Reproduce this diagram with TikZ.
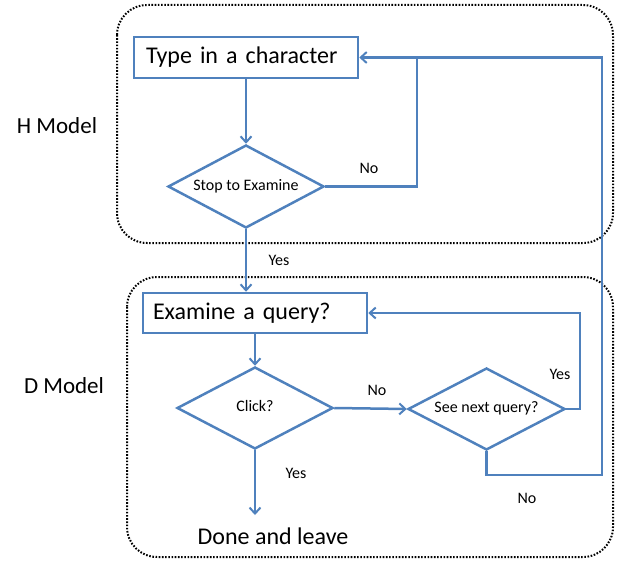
\documentclass[tikz,border=0pt]{standalone}
\usepackage{fontspec}
\setmainfont{Carlito}
\usetikzlibrary{shapes.geometric,arrows.meta}
\definecolor{fblue}{HTML}{4F81BD}
\newcommand{\ztext}[1]{\makebox[0pt]{\smash{\raisebox{-0.5ex}{#1}}}}
\tikzset{
  flow/.style={draw=fblue, line width=2.5pt},
  arr/.style={flow, -{Straight Barb[length=6pt,width=11pt,line width=2pt]}},
  procbox/.style={draw=fblue, line width=2.5pt, rectangle, inner sep=0pt, font=\fontsize{24}{28}\selectfont},
  decision/.style={draw=fblue, line width=2.5pt, diamond, inner sep=0pt, font=\fontsize{16}{19}\selectfont},
  lbl/.style={font=\fontsize{16}{19}\selectfont, inner sep=0pt},
  model/.style={font=\fontsize{23}{27}\selectfont, inner sep=0pt},
  group/.style={draw=black, line width=2pt, dash pattern=on 1.6pt off 1.6pt, rounded corners=30pt}
}
\begin{document}
\begin{tikzpicture}[x=1pt,y=-1pt]
\useasboundingbox (0,0) rectangle (631,561);
% groups
\draw[group] (117,5) rectangle (613,243);
\draw[group] (127,277) rectangle (613,557);
\node[model] (hm) at (57,126) {H Model};
\node[model] (dm) at (64,386) {D Model};
% nodes
\node[procbox, minimum width=224pt, minimum height=41pt, text width=200pt, align=left] (type) at (246,57.5) {Type in a character};
\node[decision, minimum width=156pt, minimum height=83pt] (stop) at (246,186.5) {\ztext{Stop to Examine}};
\node[procbox, minimum width=224pt, minimum height=40pt, text width=204pt, align=left] (exam) at (255,313) {Examine a query?};
\node[decision, minimum width=156pt, minimum height=82pt] (click) at (255,408) {\ztext{Click?}};
\node[decision, minimum width=157pt, minimum height=82pt] (seen) at (486.5,409) {\ztext{See next query?}};
\node[font=\fontsize{24}{28}\selectfont, inner sep=0pt] (done) at (273,536) {Done and leave};
% coordinates
\coordinate (j1) at (417,57.5);
\coordinate (j2) at (602,57.5);
\coordinate (c1) at (602,475);
\coordinate (dtop) at (255,515);
% connectors
\draw[arr] (type.south) -- (stop.north);
\draw[flow] (stop.east) -| (j1);
\draw[arr] (j1) -- (type.east);
\draw[arr] (stop.south) -- (stop.south |- exam.north);
\draw[arr] (exam.south) -- (click.north);
\draw[arr] (click.east) -- (seen.west);
\draw[arr] (seen.east) -- (580,409) |- (exam.east);
\draw[flow] (seen.south) |- (c1) -- (j2) -- (j1);
\draw[arr] (click.south) -- (dtop);
% labels
\node[lbl] (no1) at (369,168) {No};
\node[lbl] (yes1) at (279,260) {Yes};
\node[lbl] (no2) at (377,390) {No};
\node[lbl] (yes2) at (560,374) {Yes};
\node[lbl] (yes3) at (296,473) {Yes};
\node[lbl] (no3) at (527,498) {No};
\end{tikzpicture}
\end{document}
